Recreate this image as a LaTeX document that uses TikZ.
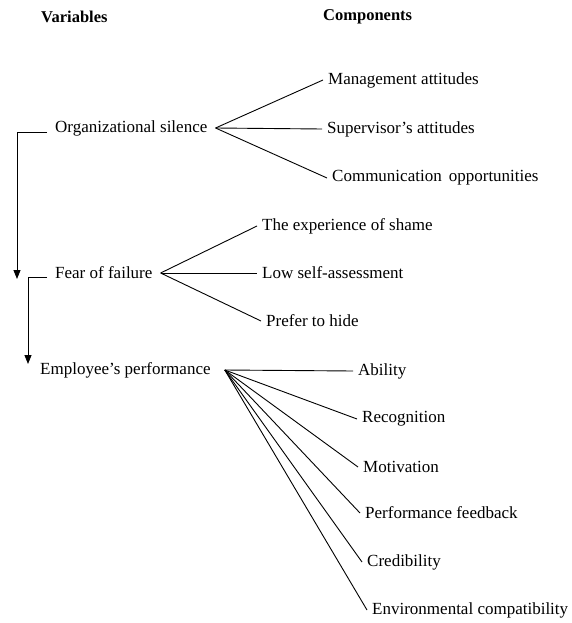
\documentclass[tikz,border=0pt]{standalone}
\usepackage{fontspec}
\setmainfont{Liberation Serif}
\usetikzlibrary{arrows.meta}
\usetikzlibrary{positioning}
\tikzset{head/.style={anchor=west,inner sep=0pt,font=\fontsize{16.5}{18}\selectfont\bfseries}}
\tikzset{var/.style={anchor=west,inner xsep=8pt,inner ysep=2pt,font=\fontsize{17}{19}\selectfont}}
\tikzset{cmp/.style={anchor=west,inner xsep=5pt,inner ysep=2pt,font=\fontsize{17}{19}\selectfont}}
\tikzset{fan/.style={draw=black,line width=0.9pt}}
\tikzset{arrow/.style={-{Triangle[length=9pt,width=7pt]},line width=0.9pt}}

\begin{document}
\begin{tikzpicture}[x=1pt,y=-1pt]
        \useasboundingbox[fill=white] (0,0) rectangle (571,623);

        \node[head] (hvar) at (41,17) {Variables};
        \node[head] (hcmp) at (323,17) {Components};

        \node[var] (osl) at (47,128) {Organizational silence};
        \node[var] (ffl) at (47,273) {Fear of failure};
        \node[var] (epf) at (32,370) {Employee's performance};

        \node[cmp] (mga) at (323,80) {Management attitudes};
        \node[cmp] (spa) at (322,129) {Supervisor's attitudes};
        \node[cmp] (cmo) at (327,178) {Communication\, opportunities};

        \node[cmp] (exs) at (257,226) {The experience of shame};
        \node[cmp] (lsa) at (257,273) {Low self-assessment};
        \node[cmp] (pth) at (261,321) {Prefer to hide};

        \node[cmp] (abl) at (353,371) {Ability};
        \node[cmp] (rcg) at (357,419) {Recognition};
        \node[cmp] (mtv) at (358,467) {Motivation};
        \node[cmp] (pfb) at (360,513) {Performance feedback};
        \node[cmp] (crd) at (362,562) {Credibility};
        \node[cmp] (env) at (367,610) {Environmental compatibility};

        \coordinate (tipf) at (17,279);
        \coordinate (tipe) at (28,364);

        \draw[arrow] ([yshift=-4pt]osl.west) -| (tipf);
        \draw[arrow] ([yshift=-4pt]ffl.west) -| (tipe);

        \foreach \c in {mga,spa,cmo}
            \draw[fan] (osl.east) -- (\c.west);
        \foreach \c in {exs,lsa,pth}
            \draw[fan] (ffl.east) -- (\c.west);
        \foreach \c in {abl,rcg,mtv,pfb,crd,env}
            \draw[fan] ([xshift=6pt]epf.east) -- (\c.west);
    \end{tikzpicture}
\end{document}
